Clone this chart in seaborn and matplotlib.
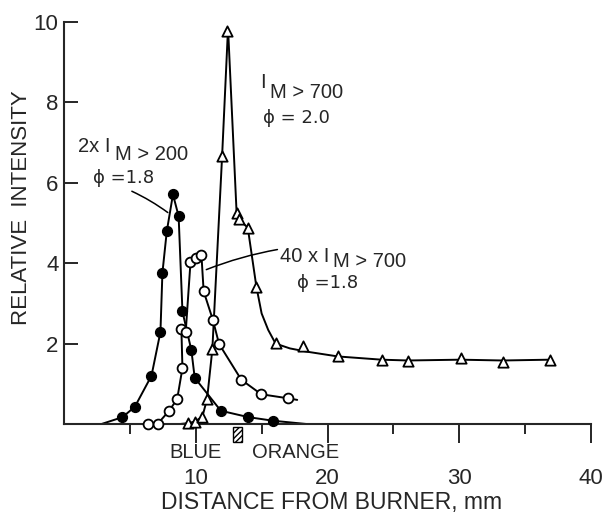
import matplotlib
matplotlib.use("Agg")
import matplotlib.pyplot as plt
import matplotlib.transforms as mtransforms
from matplotlib.patches import Rectangle
import seaborn as sns

sns.set_style("ticks")
plt.rcParams["font.family"] = ["Liberation Sans", "DejaVu Sans"]

# 2 x I(M>200), phi = 1.8  -- filled circles
filled_x = [4.44, 5.38, 6.64, 7.32, 7.47, 7.80, 8.27, 8.70, 8.99, 9.67, 9.92, 11.9, 14.0, 15.9]
filled_y = [0.17, 0.43, 1.20, 2.29, 3.76, 4.79, 5.71, 5.17, 2.80, 1.83, 1.15, 0.33, 0.17, 0.08]
filled_ends_x = [2.85, 18.4]
filled_ends_y = [0.0, 0.0]

# 40 x I(M>700), phi = 1.8  -- open circles
open_x = [6.34, 7.10, 7.98, 8.59, 8.99, 8.91, 9.24, 9.60, 10.0, 10.43, 10.6, 11.3, 11.77, 13.46, 14.97, 16.99]
open_y = [0.00, 0.00, 0.33, 0.62, 1.39, 2.36, 2.30, 4.02, 4.14, 4.21, 3.30, 2.59, 1.99, 1.10, 0.74, 0.64]
open_ends_x = [6.34, 17.7]
open_ends_y = [0.0, 0.60]

# I(M>700), phi = 2.0  -- open triangles
tri_x = [9.42, 9.92, 10.5, 10.86, 11.26, 12.0, 12.4, 13.1, 13.3, 13.95, 14.6, 16.06, 18.13, 20.8, 24.1, 26.1, 30.1, 33.3, 36.9]
tri_y = [0.02, 0.06, 0.18, 0.62, 1.86, 6.66, 9.78, 5.26, 5.09, 4.88, 3.42, 2.01, 1.93, 1.70, 1.60, 1.57, 1.65, 1.55, 1.60]
# drawn curve through the triangles
tri_curve_x = [8.8, 9.42, 9.92, 10.5, 10.86, 11.26, 12.0, 12.45, 13.1, 13.3, 13.95, 14.6,
               15.0, 15.5, 16.06, 17.15, 18.42, 20.8, 24.1, 26.1, 30.1, 33.3, 36.9]
tri_curve_y = [0.0, 0.02, 0.06, 0.18, 0.62, 1.86, 6.66, 9.85, 5.26, 5.09, 4.88, 3.42,
               2.75, 2.34, 2.00, 1.88, 1.80, 1.68, 1.60, 1.58, 1.60, 1.58, 1.60]

# blue / orange zone boundary (hatched mark under axis)
zone_x = [12.83, 13.54]
zone_labels = ["BLUE", "ORANGE"]
zone_label_x = [9.96, 17.6]

x_major = [10, 20, 30, 40]
x_minor = [5, 15, 25, 35]
y_major = [2, 4, 6, 8, 10]


def with_ends(xs, ys, ends_x, ends_y):
    return [ends_x[0]] + xs + [ends_x[1]], [ends_y[0]] + ys + [ends_y[1]]


fig = plt.figure(figsize=(6.02, 5.16), dpi=100)
ax = fig.add_axes([64 / 602, 92 / 516, 527 / 602, 402 / 516])

line_kw = dict(color="black", lw=1.4, sort=False, estimator=None, ax=ax, legend=False)
for lx, ly in [with_ends(filled_x, filled_y, filled_ends_x, filled_ends_y),
               with_ends(open_x, open_y, open_ends_x, open_ends_y),
               (tri_curve_x, tri_curve_y)]:
    sns.lineplot(x=lx, y=ly, **line_kw)

sns.scatterplot(x=filled_x, y=filled_y, marker="o", s=50, color="black",
                edgecolor="black", linewidth=1.0, ax=ax, zorder=3, clip_on=False)
sns.scatterplot(x=open_x, y=open_y, marker="o", s=50, color="white",
                edgecolor="black", linewidth=1.3, ax=ax, zorder=3, clip_on=False)
sns.scatterplot(x=tri_x, y=tri_y, marker="^", s=55, color="white",
                edgecolor="black", linewidth=1.3, ax=ax, zorder=3, clip_on=False)

ax.set_xlim(0, 40)
ax.set_ylim(0, 10)
sns.despine(ax=ax)
for side in ["left", "bottom"]:
    ax.spines[side].set_linewidth(1.5)

ax.set_xticks(x_major)
ax.set_xticks(x_minor, minor=True)
ax.set_yticks(y_major)
ax.tick_params(axis="x", which="major", direction="out", length=14, width=1.4,
               pad=18, labelsize=16)
ax.tick_params(axis="x", which="minor", direction="out", length=7, width=1.4)
ax.tick_params(axis="y", which="major", direction="in", length=10, width=1.4,
               pad=4, labelsize=16)

ax.set_xlabel("DISTANCE FROM BURNER, mm", fontsize=16.5)
ax.xaxis.set_label_coords(0.507, -0.167)
ax.set_ylabel("RELATIVE  INTENSITY", fontsize=16)
ax.yaxis.set_label_coords(-0.061, 0.539)

# blue / orange marks below the axis
trans = mtransforms.blended_transform_factory(ax.transData, ax.transAxes)
ax.add_patch(Rectangle((zone_x[0], -0.044), zone_x[1] - zone_x[0], 0.036,
                       transform=trans, facecolor="none", edgecolor="black",
                       hatch="//////", lw=1.0, clip_on=False))
for lab, lx in zip(zone_labels, zone_label_x):
    ax.text(lx, -0.085, lab, transform=trans, ha="center", va="baseline",
            fontsize=14.5)

fs = 14.5


def subscripted(x, y, main, sub, drop):
    t = ax.text(x, y, main, fontsize=fs, va="baseline", ha="left")
    ax.annotate(sub, xy=(1, 0), xycoords=t, xytext=(3, -drop),
                textcoords="offset points", fontsize=fs, va="bottom", ha="left")
    return t


def phi_label(x, y, value):
    ax.text(x, y, "\u03d5 =" + value, fontsize=13, ha="center",
            va="baseline", family=["DejaVu Sans"])


subscripted(1.06, 6.77, "2x I", "M > 200", 6)
phi_label(4.55, 5.99, "1.8")

subscripted(14.87, 8.36, "I", "M > 700", 7)
phi_label(17.68, 7.49, " 2.0")

subscripted(16.39, 4.04, "40 x I", "M > 700", 4)
phi_label(20.0, 3.38, "1.8")

# leader lines from labels to curves
ax.annotate("", xy=(7.88, 5.26), xytext=(5.15, 5.79),
            arrowprops=dict(arrowstyle="-", lw=1.1, color="black",
                            connectionstyle="arc3,rad=-0.05", shrinkA=0, shrinkB=0))
ax.annotate("", xy=(10.8, 3.84), xytext=(16.2, 4.34),
            arrowprops=dict(arrowstyle="-", lw=1.1, color="black",
                            connectionstyle="arc3,rad=0.05", shrinkA=0, shrinkB=0))

fig.savefig("out.png", dpi=100)
